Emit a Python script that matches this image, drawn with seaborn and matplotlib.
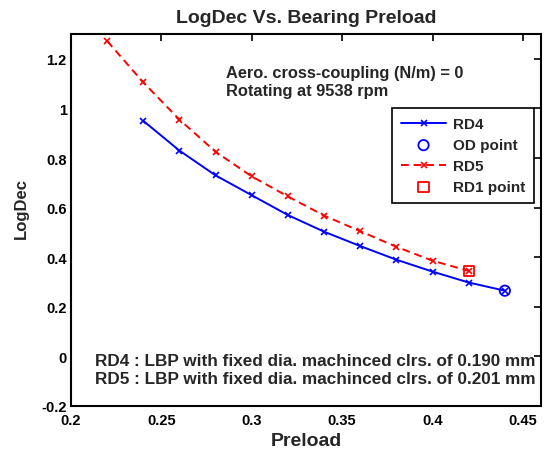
import numpy as np
import pandas as pd
import matplotlib
matplotlib.use("Agg")
import matplotlib.pyplot as plt
import seaborn as sns
from matplotlib.ticker import FuncFormatter

# Data
rd4_preload = [0.24, 0.26, 0.28, 0.30, 0.32, 0.34, 0.36, 0.38, 0.40, 0.42, 0.44]
rd4_logdec = [0.95, 0.83, 0.73, 0.65, 0.57, 0.503, 0.445, 0.39, 0.342, 0.298, 0.265]
rd5_preload = [0.22, 0.24, 0.26, 0.28, 0.30, 0.32, 0.34, 0.36, 0.38, 0.40, 0.42]
rd5_logdec = [1.272, 1.105, 0.955, 0.825, 0.726, 0.645, 0.568, 0.505, 0.442, 0.386, 0.345]
od_point = ([0.44], [0.265])
rd1_point = ([0.42], [0.345])

sns.set_style("white")
plt.rcParams['font.family'] = ['Liberation Sans', 'DejaVu Sans']
plt.rcParams['font.weight'] = 'bold'

fig = plt.figure(figsize=(5.45, 4.56), dpi=100)
ax = fig.add_axes([0.1303, 0.1075, 0.8624, 0.8155])

df4 = pd.DataFrame({"Preload": rd4_preload, "LogDec": rd4_logdec})
df5 = pd.DataFrame({"Preload": rd5_preload, "LogDec": rd5_logdec})

sns.lineplot(data=df4, x="Preload", y="LogDec", ax=ax, color="#0000FF", lw=1.4,
             marker="x", markersize=5, mew=1.2, mec="#0000FF", label="RD4")
sns.scatterplot(x=od_point[0], y=od_point[1], ax=ax, marker="o", s=55,
                facecolors="none", edgecolor="#0000FF", linewidth=1.3, label="OD point")
sns.lineplot(data=df5, x="Preload", y="LogDec", ax=ax, color="#FF0000", lw=1.4,
             marker="x", markersize=5, mew=1.2, mec="#FF0000", label="RD5", linestyle="--")
ax.lines[-1].set_dashes([4, 2.5])
sns.scatterplot(x=rd1_point[0], y=rd1_point[1], ax=ax, marker="s", s=55,
                facecolors="none", edgecolor="#FF0000", linewidth=1.3, label="RD1 point")

ax.set_xlim(0.2, 0.46)
ax.set_ylim(-0.2, 1.3)
ax.set_xticks([0.2, 0.25, 0.3, 0.35, 0.4, 0.45])
ax.set_yticks([-0.2, 0, 0.2, 0.4, 0.6, 0.8, 1.0, 1.2])
ax.xaxis.set_major_formatter(FuncFormatter(lambda v, p: f"{v:g}"))
ax.yaxis.set_major_formatter(FuncFormatter(lambda v, p: f"{v:g}"))
ax.tick_params(direction="in", length=5, width=1.2, top=True, right=True,
               labelsize=10.5, colors="black")
ax.tick_params(axis="x", pad=5)
ax.tick_params(axis="y", pad=3)
for lab in ax.get_xticklabels() + ax.get_yticklabels():
    lab.set_fontweight("bold")
for s in ax.spines.values():
    s.set_linewidth(1.5)
    s.set_color("black")

ax.set_xlabel("Preload", fontsize=14, fontweight="bold", labelpad=4)
ax.set_ylabel("LogDec", fontsize=12, fontweight="bold")
ax.yaxis.set_label_coords(-0.09, 0.535)
ax.set_title("LogDec Vs. Bearing Preload", fontsize=14, fontweight="bold", pad=9)

ax.text(0.286, 1.145, "Aero. cross-coupling (N/m) = 0", fontsize=11.8, fontweight="bold", va="center")
ax.text(0.286, 1.071, "Rotating at 9538 rpm", fontsize=11.8, fontweight="bold", va="center")
ax.text(0.2135, -0.016, "RD4 : LBP with fixed dia. machinced clrs. of 0.190 mm", fontsize=12.3, fontweight="bold", va="center")
ax.text(0.2135, -0.091, "RD5 : LBP with fixed dia. machinced clrs. of 0.201 mm", fontsize=12.3, fontweight="bold", va="center")

leg = ax.legend(loc="upper right", bbox_to_anchor=(0.985, 0.801), borderaxespad=0,
                fontsize=11, frameon=True, fancybox=False, edgecolor="black", framealpha=1,
                borderpad=0.6, labelspacing=0.45, handlelength=2.9, handletextpad=0.45)
leg.get_frame().set_linewidth(1.2)
for t in leg.get_texts():
    t.set_fontweight("bold")

fig.savefig("out.png", dpi=100)
